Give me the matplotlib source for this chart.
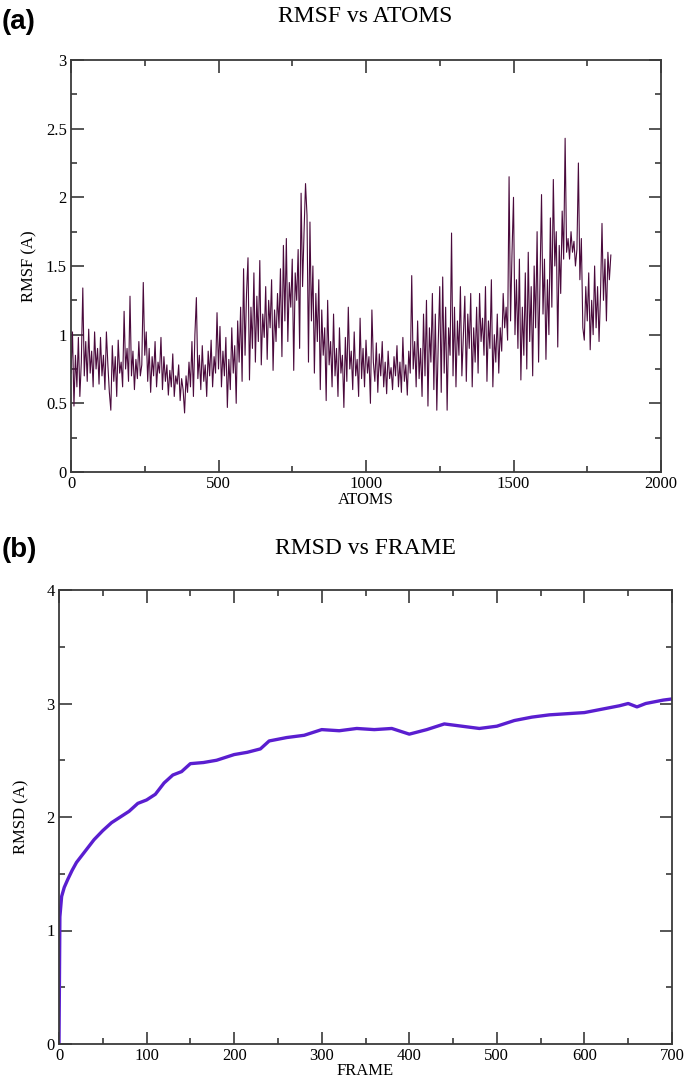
import numpy as np
import matplotlib
matplotlib.use("Agg")
import matplotlib.pyplot as plt
from matplotlib.ticker import MultipleLocator, FuncFormatter

# RMSF per atom, read every 5 atoms (0..1830)
rmsf = [
    0.72, 1.02, 0.48, 0.85, 0.62, 0.98, 0.55, 0.80, 1.34, 0.70, 0.95, 0.66, 1.04, 0.72, 0.88, 0.62, 1.02, 0.75, 0.90, 0.64,
    0.98, 0.70, 0.85, 0.60, 1.02, 0.78, 0.58, 0.45, 0.92, 0.66, 0.84, 0.55, 0.96, 0.72, 0.80, 0.62, 1.17, 0.75, 0.90, 0.66,
    1.28, 0.70, 0.88, 0.60, 0.82, 0.68, 0.95, 0.70, 0.78, 1.38, 0.85, 1.02, 0.66, 0.90, 0.58, 0.84, 0.70, 0.95, 0.62, 0.80,
    0.72, 0.98, 0.60, 0.84, 0.66, 0.78, 0.56, 0.74, 0.62, 0.86, 0.55, 0.70, 0.64, 0.78, 0.52, 0.68, 0.60, 0.43, 0.70, 0.58,
    0.80, 0.62, 0.95, 0.55, 1.00, 1.27, 0.68, 0.85, 0.60, 0.92, 0.66, 0.78, 0.55, 0.88, 0.70, 0.96, 0.62, 0.84, 0.72, 1.16,
    0.75, 1.06, 0.62, 0.88, 0.70, 0.98, 0.47, 0.82, 0.60, 1.05, 0.72, 0.92, 0.50, 1.10, 0.80, 1.20, 0.66, 1.48, 0.85, 1.30,
    1.56, 0.67, 1.20, 0.90, 1.45, 0.80, 1.28, 0.95, 1.54, 0.78, 1.15, 0.98, 1.35, 0.82, 1.25, 1.05, 1.40, 0.74, 1.18, 0.95,
    1.30, 1.05, 1.48, 0.84, 1.65, 1.10, 1.70, 0.95, 1.38, 1.20, 1.55, 0.74, 1.45, 1.25, 1.62, 0.90, 2.03, 1.35, 1.75, 2.10,
    1.87, 0.80, 1.82, 1.10, 1.50, 0.72, 1.30, 0.95, 1.40, 0.60, 1.18, 0.85, 1.05, 0.52, 1.25, 0.78, 0.95, 0.62, 1.15, 0.70,
    0.90, 0.55, 1.05, 0.72, 0.85, 0.47, 0.98, 0.66, 1.20, 0.75, 0.88, 0.60, 1.02, 0.70, 0.82, 0.55, 1.12, 0.68, 0.90, 0.62,
    0.96, 0.72, 0.84, 0.50, 1.18, 0.80, 0.66, 0.94, 0.58, 0.86, 0.70, 0.95, 0.62, 0.80, 0.57, 0.88, 0.68, 0.76, 0.60, 0.84,
    0.70, 0.92, 0.62, 0.80, 0.58, 0.98, 0.66, 0.78, 0.56, 0.88, 0.72, 1.43, 0.75, 0.95, 0.62, 1.10, 0.68, 0.90, 0.55, 1.15,
    0.70, 1.25, 0.48, 1.05, 0.80, 1.30, 0.60, 1.15, 0.45, 0.95, 1.35, 0.58, 1.42, 0.72, 1.20, 0.45, 1.05, 0.85, 1.74, 0.70,
    1.20, 0.62, 1.10, 0.85, 1.35, 0.70, 1.00, 1.28, 0.66, 1.15, 0.90, 1.30, 0.62, 1.05, 0.80, 1.20, 0.72, 1.30, 0.95, 1.12,
    0.85, 1.35, 0.66, 1.10, 0.90, 1.40, 0.62, 1.00, 0.80, 1.15, 0.72, 1.05, 0.88, 1.30, 1.05, 1.20, 0.96, 2.15, 1.10, 1.60,
    2.00, 1.00, 1.40, 0.90, 1.55, 0.67, 1.20, 0.85, 1.45, 0.75, 1.60, 0.95, 1.35, 0.70, 1.50, 1.05, 1.75, 0.80, 1.40, 2.02,
    1.15, 1.55, 0.82, 1.40, 1.00, 1.85, 1.20, 2.13, 1.50, 1.75, 0.91, 1.65, 1.30, 1.90, 1.55, 2.43, 1.60, 1.70, 1.55, 1.75,
    1.60, 1.68, 1.50, 1.62, 2.25, 1.40, 1.70, 1.05, 0.96, 1.35, 1.10, 1.45, 0.89, 1.25, 1.00, 1.50, 1.05, 1.35, 0.95, 1.30,
    1.81, 1.25, 1.55, 1.10, 1.60, 1.40, 1.58,
]
atoms = np.arange(0, 5 * len(rmsf), 5)

# RMSD vs frame
frames = [0, 1, 3, 6, 10, 15, 20, 30, 40, 50, 60, 70, 80, 90, 100, 110, 120, 130, 140, 150,
          165, 180, 200, 215, 230, 240, 260, 280, 300, 320, 340, 360, 380, 400, 420, 440,
          460, 480, 500, 520, 540, 560, 580, 600, 620, 640, 650, 660, 670, 690, 700]
rmsd = [0.0, 1.12, 1.30, 1.38, 1.45, 1.53, 1.60, 1.70, 1.80, 1.88, 1.95, 2.00, 2.05, 2.12, 2.15, 2.20,
        2.30, 2.37, 2.40, 2.47, 2.48, 2.50, 2.55, 2.57, 2.60, 2.67, 2.70, 2.72, 2.77, 2.76, 2.78, 2.77,
        2.78, 2.73, 2.77, 2.82, 2.80, 2.78, 2.80, 2.85, 2.88, 2.90, 2.91, 2.92, 2.95, 2.98, 3.00, 2.97,
        3.00, 3.03, 3.04]

plt.rcParams['font.family'] = 'Liberation Serif'
W, H = 688, 1083
fig = plt.figure(figsize=(W / 100, H / 100), dpi=100)
fmt = FuncFormatter(lambda v, p: '%g' % v)


def style(ax, xmaj, xmin, ymaj, ymin):
    for s in ax.spines.values():
        s.set_color('#3a3a3a')
        s.set_linewidth(1.3)
    ax.xaxis.set_major_locator(MultipleLocator(xmaj))
    ax.xaxis.set_minor_locator(MultipleLocator(xmin))
    ax.yaxis.set_major_locator(MultipleLocator(ymaj))
    ax.yaxis.set_minor_locator(MultipleLocator(ymin))
    ax.xaxis.set_major_formatter(fmt)
    ax.yaxis.set_major_formatter(fmt)
    ax.tick_params(which='both', direction='in', top=True, right=True,
                   color='#3a3a3a', width=1.2, labelsize=12)
    ax.tick_params(which='major', length=9, pad=3)
    ax.tick_params(which='minor', length=4.5)


# panel (a)
ax1 = fig.add_axes([71 / W, 1 - 472 / H, 590 / W, 412 / H])
ax1.plot(atoms, rmsf, color='#4a0a3c', lw=0.8)
ax1.set_xlim(0, 2000)
ax1.set_ylim(0, 3)
style(ax1, 500, 250, 0.5, 0.25)
ax1.set_xlabel('ATOMS', fontsize=12, labelpad=0)
ax1.set_ylabel('RMSF (A)', fontsize=12, labelpad=6)

# panel (b)
ax2 = fig.add_axes([59 / W, 1 - 1044 / H, 613 / W, 454 / H])
ax2.plot(frames, rmsd, color='#5a1ed0', lw=2.4)
ax2.set_xlim(0, 700)
ax2.set_ylim(0, 4)
style(ax2, 100, 50, 1, 0.5)
ax2.set_xlabel('FRAME', fontsize=12, labelpad=-1)
ax2.set_ylabel('RMSD (A)', fontsize=12, labelpad=12)

fig.text(365 / W, 1 - 17 / H, 'RMSF vs ATOMS', fontsize=17, ha='center', va='center')
fig.text(365 / W, 1 - 548 / H, 'RMSD vs FRAME', fontsize=17, ha='center', va='center')
fig.text(2 / W, 1 - 22 / H, '(a)', fontsize=20, fontweight='bold',
         family='Liberation Sans', ha='left', va='center')
fig.text(2 / W, 1 - 550 / H, '(b)', fontsize=20, fontweight='bold',
         family='Liberation Sans', ha='left', va='center')

fig.savefig('out.png', dpi=100)
